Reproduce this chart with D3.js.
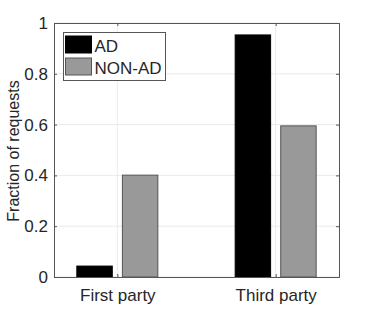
<!DOCTYPE html>
<html>
<head>
<meta charset="utf-8">
<script src="https://cdn.jsdelivr.net/npm/d3@7"></script>
<style>
body { margin: 0; background: #fff; }
text { font-family: "Liberation Sans", Arial, sans-serif; fill: #262626; }
</style>
</head>
<body>
<div class="content"></div>
<script>
const categories = ['First party', 'Third party'];
const seriesNames = ['AD', 'NON-AD'];
const adValues = [0.045, 0.955];
const nonAdValues = [0.403, 0.597];
const yTicks = [0, 0.2, 0.4, 0.6, 0.8, 1];
const colors = ['#000000', '#999999'];
const edges = ['#000000', '#555555'];

const w = 374;
const h = 312;
const m = { top: 23, right: 35, bottom: 35, left: 54 };

const svg = d3.select('.content').append('svg')
	.attr('width', w)
	.attr('height', h);

const xScale = d3.scalePoint()
	.domain(categories)
	.range([m.left, w - m.right])
	.padding(0.4);

const sub = d3.scaleBand()
	.domain(seriesNames)
	.range([-41, 41])
	.paddingInner(0.2);

const yScale = d3.scaleLinear()
	.domain([0, 1])
	.range([h - m.bottom, m.top]);

// grid
svg.append('g')
	.selectAll('line.gy')
	.data(yTicks)
	.enter()
	.append('line')
	.attr('x1', m.left)
	.attr('x2', w - m.right)
	.attr('y1', (d) => yScale(d))
	.attr('y2', (d) => yScale(d))
	.attr('stroke', '#ebebeb');

svg.append('g')
	.selectAll('line.gx')
	.data(categories)
	.enter()
	.append('line')
	.attr('x1', (d) => xScale(d))
	.attr('x2', (d) => xScale(d))
	.attr('y1', m.top)
	.attr('y2', h - m.bottom)
	.attr('stroke', '#ebebeb');

const rows = categories.map((c, i) => ({ cat: c, values: [adValues[i], nonAdValues[i]] }));

rows.forEach((r) => {
	svg.append('g')
		.selectAll('rect')
		.data(r.values)
		.enter()
		.append('rect')
		.attr('x', (d, j) => xScale(r.cat) + sub(seriesNames[j]) + 0.5)
		.attr('y', (d) => yScale(d) + 0.5)
		.attr('width', sub.bandwidth() - 1)
		.attr('height', (d) => yScale(0) - yScale(d) - 0.5)
		.attr('fill', (d, j) => colors[j])
		.attr('stroke', (d, j) => edges[j])
		.attr('stroke-width', 1);
});

// axes
const yAxis = d3.axisLeft(yScale)
	.tickValues(yTicks)
	.tickFormat((d) => d3.format('~g')(d))
	.tickSize(-3)
	.tickPadding(6);

const yAxisR = d3.axisRight(yScale)
	.tickValues(yTicks)
	.tickFormat('')
	.tickSize(-3);

const xAxis = d3.axisBottom(xScale)
	.tickSize(-3)
	.tickPadding(12);

const xAxisT = d3.axisTop(xScale)
	.tickFormat('')
	.tickSize(-3);

svg.append('g')
	.attr('transform', 'translate(' + m.left + ',0)')
	.call(yAxis);

svg.append('g')
	.attr('transform', 'translate(' + (w - m.right) + ',0)')
	.call(yAxisR);

svg.append('g')
	.attr('transform', 'translate(0,' + (h - m.bottom) + ')')
	.call(xAxis);

svg.append('g')
	.attr('transform', 'translate(0,' + m.top + ')')
	.call(xAxisT);

svg.selectAll('.domain, .tick line')
	.attr('stroke', '#555');

svg.selectAll('.tick text')
	.style('font-size', '17px')
	.attr('fill', '#262626');

svg.append('text')
	.attr('transform', 'translate(19,' + ((m.top + h - m.bottom) / 2 + 1) + ') rotate(-90)')
	.attr('text-anchor', 'middle')
	.style('font-size', '16px')
	.text('Fraction of requests');

// legend
const legend = svg.append('g')
	.attr('transform', 'translate(63.5,32.5)');

legend.append('rect')
	.attr('width', 102)
	.attr('height', 48)
	.attr('fill', '#fff')
	.attr('stroke', '#555');

const item = legend.selectAll('g.item')
	.data(seriesNames)
	.enter()
	.append('g')
	.attr('transform', (d, i) => 'translate(2,' + (3.5 + i * 22) + ')');

item.append('rect')
	.attr('width', 26)
	.attr('height', 17)
	.attr('fill', (d, i) => colors[i])
	.attr('stroke', (d, i) => edges[i]);

item.append('text')
	.attr('x', 29)
	.attr('y', 16)
	.style('font-size', '17px')
	.text((d) => d);
</script>
</body>
</html>
